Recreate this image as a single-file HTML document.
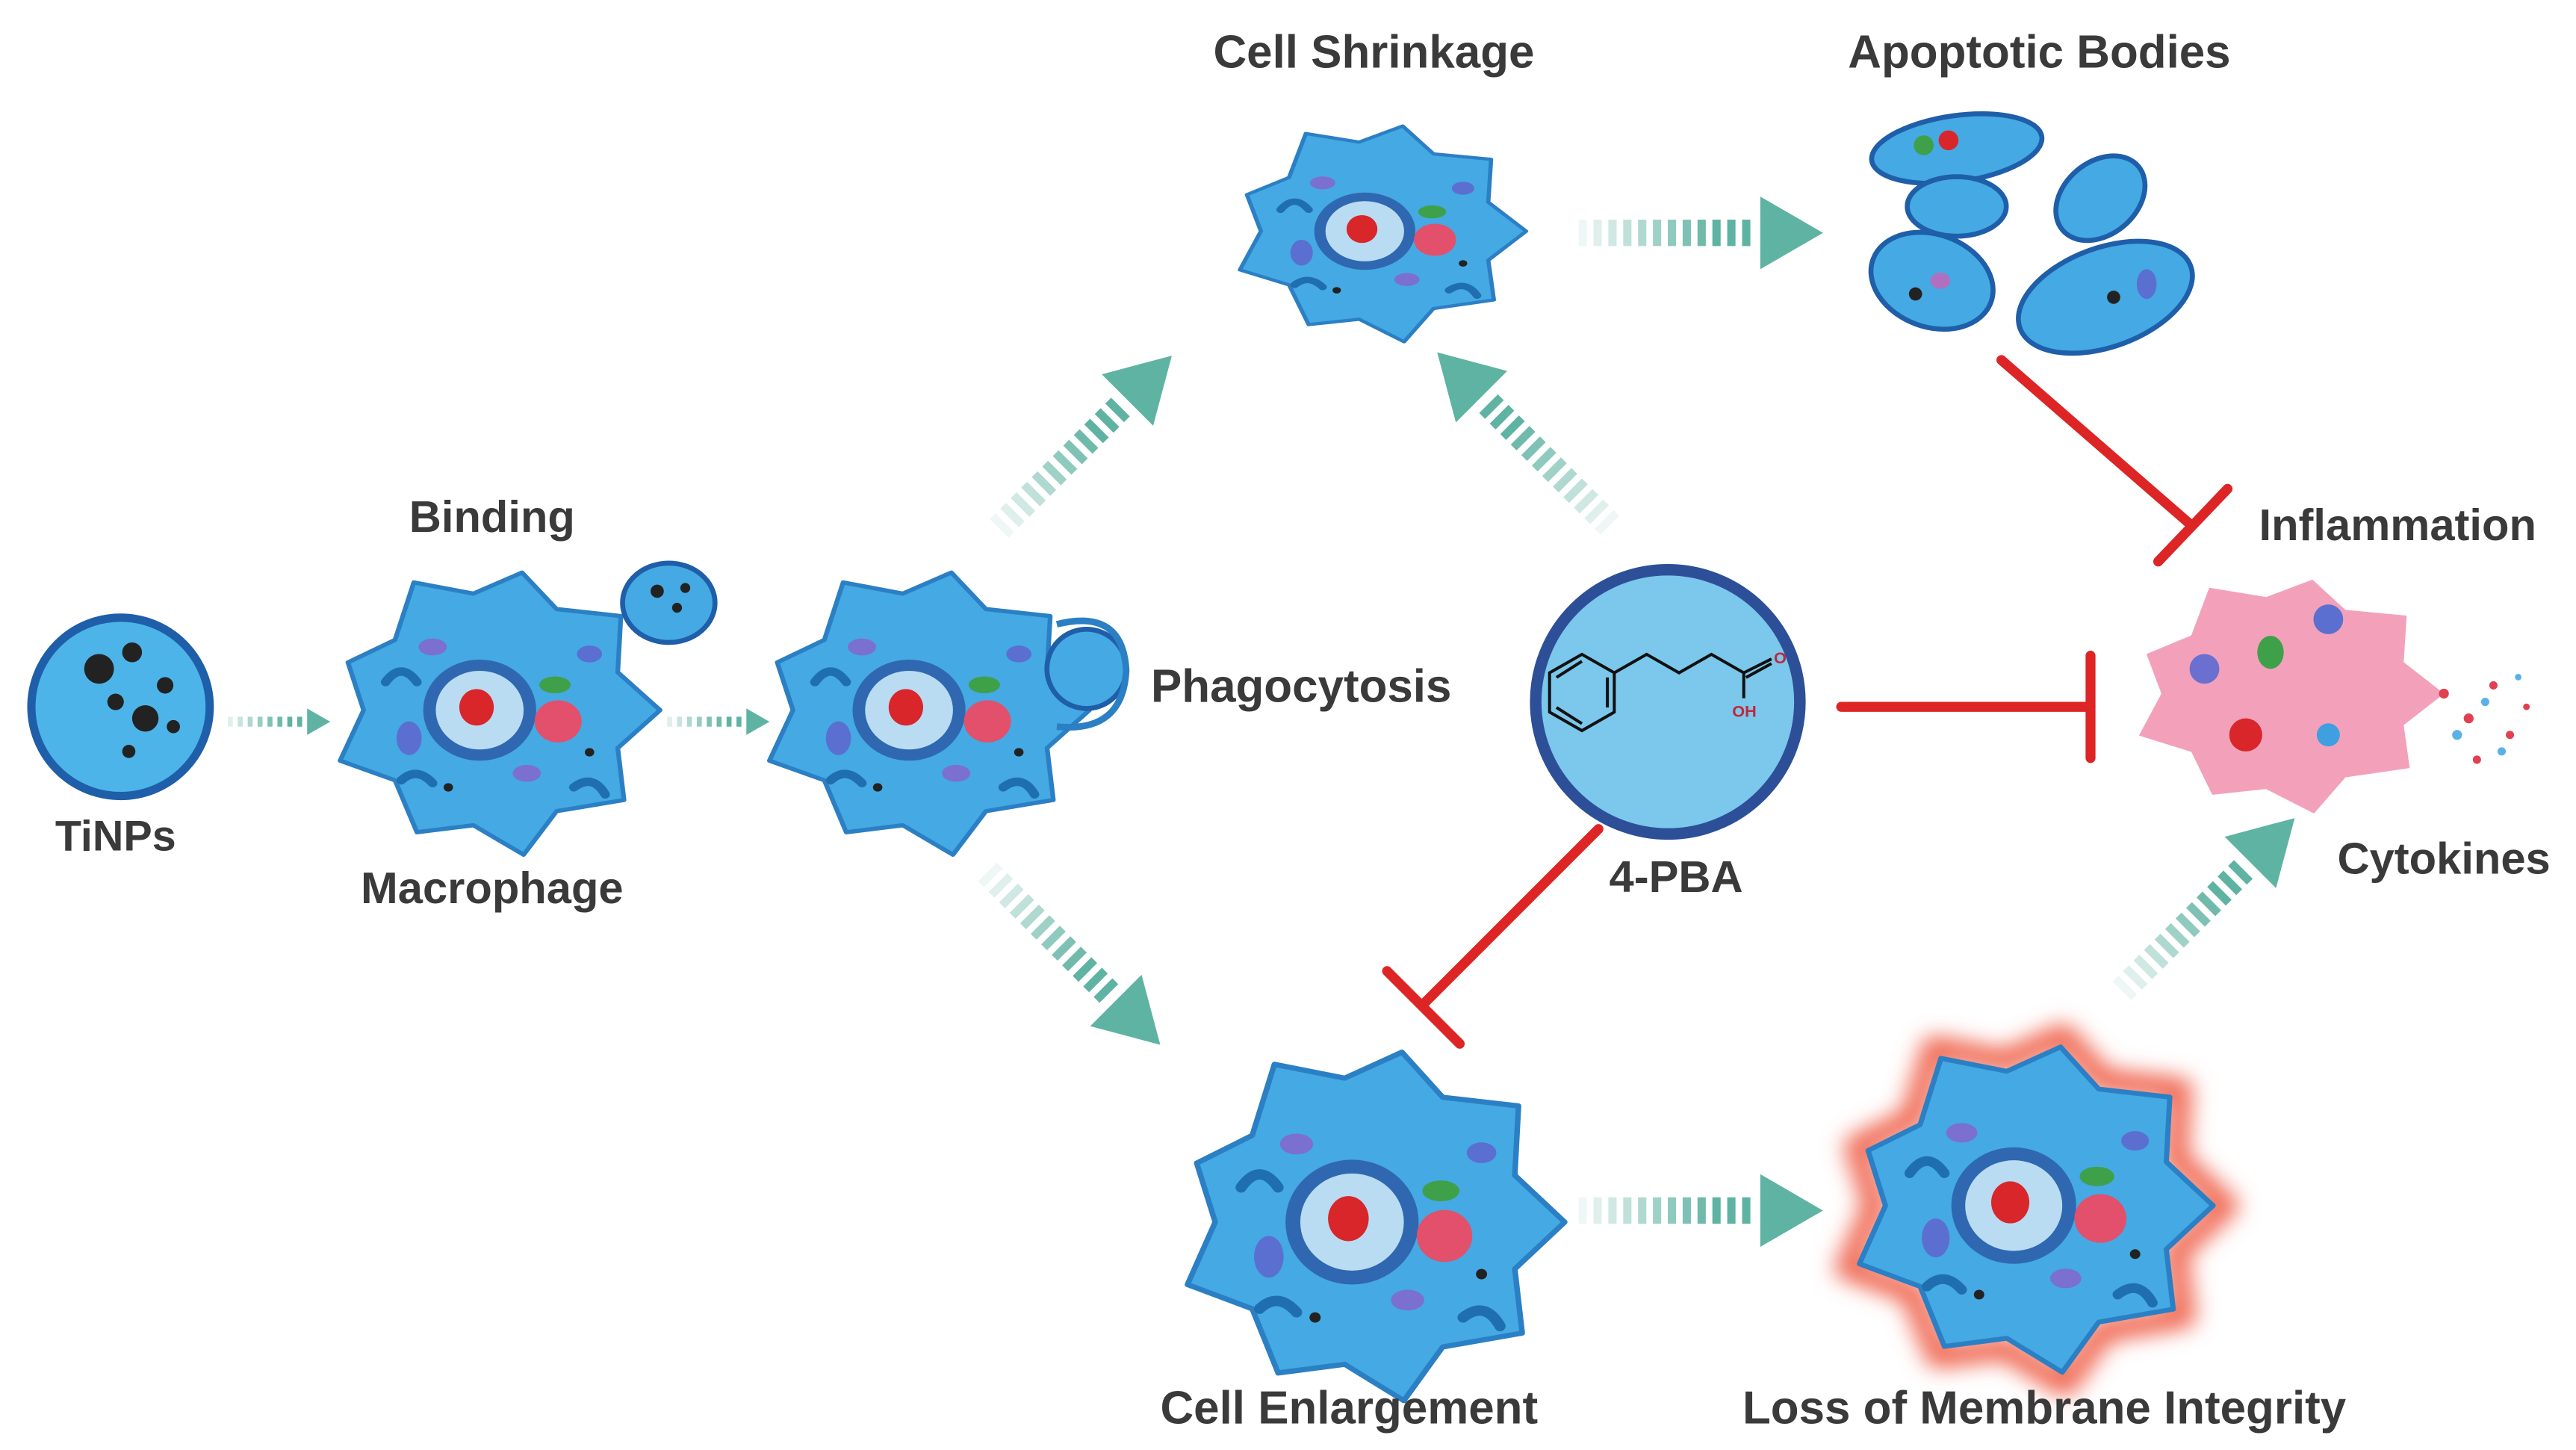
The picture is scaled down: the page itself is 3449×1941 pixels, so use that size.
<!DOCTYPE html>
<html><head><meta charset="utf-8"><style>
html,body{margin:0;padding:0;background:#fff;}
svg{display:block;}
text{font-family:"Liberation Sans",sans-serif;font-weight:bold;fill:#3a3a3a;}
</style></head><body>
<svg width="3449" height="1941" viewBox="0 0 1560 878" preserveAspectRatio="none" xmlns="http://www.w3.org/2000/svg">
<defs>
<polygon id="blob" points="105,0 78,27 82,64 39,72 18,103 -14,82 -50,87 -64,50 -99,36 -84,0 -94,-34 -64,-50 -52,-91 -14,-83 17,-98 39,-72 80,-67 78,-27" stroke-linejoin="round"/>
<g id="cell">
<use href="#blob" fill="#45a9e3" stroke="#2b7fc4" stroke-width="3"/>
<circle cx="-10" cy="0" r="36" fill="#2f68b0"/>
<circle cx="-10" cy="0" r="28" fill="#b9dcf2"/>
<ellipse cx="-12" cy="-2" rx="11" ry="13" fill="#d8262b"/>
<circle cx="40" cy="8" r="15" fill="#e2506b"/>
<ellipse cx="38" cy="-18" rx="10" ry="6" fill="#3fa04a"/>
<ellipse cx="-55" cy="20" rx="8" ry="12" fill="#5a6fd0"/>
<ellipse cx="20" cy="45" rx="9" ry="6" fill="#7b6fd0"/>
<ellipse cx="-40" cy="-45" rx="9" ry="6" fill="#7b6fd0"/>
<ellipse cx="60" cy="-40" rx="8" ry="6" fill="#5a6fd0"/>
<circle cx="60" cy="30" r="3" fill="#222"/><circle cx="-30" cy="55" r="3" fill="#222"/>
<path d="M-70,-20 q10,-15 20,0 M50,55 q12,-10 20,5 M-60,50 q10,-10 20,2" stroke="#1f6fb0" stroke-width="6" fill="none" stroke-linecap="round"/>
</g>
<g id="darr" fill="#5fb3a2">
<rect x="0" y="-8" width="5" height="16" opacity="0.1"/>
<rect x="9" y="-8" width="5" height="16" opacity="0.2"/>
<rect x="18" y="-8" width="5" height="16" opacity="0.3"/>
<rect x="27" y="-8" width="5" height="16" opacity="0.4"/>
<rect x="36" y="-8" width="5" height="16" opacity="0.5"/>
<rect x="45" y="-8" width="5" height="16" opacity="0.6"/>
<rect x="54" y="-8" width="5" height="16" opacity="0.7"/>
<rect x="63" y="-8" width="5" height="16" opacity="0.8"/>
<rect x="72" y="-8" width="5" height="16" opacity="0.9"/>
<rect x="81" y="-8" width="5" height="16"/>
<rect x="90" y="-8" width="5" height="16"/>
<rect x="99" y="-8" width="5" height="16"/>
<polygon points="110,-22 148,0 110,22"/>
</g>
<g id="sarr" fill="#5fb3a2">
<rect x="0" y="-3" width="3" height="6" opacity="0.2"/>
<rect x="6" y="-3" width="3" height="6" opacity="0.35"/>
<rect x="12" y="-3" width="3" height="6" opacity="0.5"/>
<rect x="18" y="-3" width="3" height="6" opacity="0.65"/>
<rect x="24" y="-3" width="3" height="6" opacity="0.8"/>
<rect x="30" y="-3" width="3" height="6" opacity="0.9"/>
<rect x="36" y="-3" width="3" height="6"/>
<rect x="42" y="-3" width="3" height="6"/>
<polygon points="48,-8 62,0 48,8"/>
</g>
<filter id="glow"><feGaussianBlur stdDeviation="6"/></filter>
</defs>

<!-- TiNPs -->
<circle cx="73" cy="428" r="54" fill="#4cb4e8" stroke="#1f5ea8" stroke-width="5"/>
<circle cx="60" cy="405" r="9" fill="#222"/><circle cx="80" cy="395" r="6" fill="#222"/><circle cx="88" cy="435" r="8" fill="#222"/><circle cx="70" cy="425" r="5" fill="#222"/><circle cx="100" cy="415" r="5" fill="#222"/><circle cx="105" cy="440" r="4" fill="#222"/><circle cx="78" cy="455" r="4" fill="#222"/>
<text x="70" y="515" font-size="26" text-anchor="middle">TiNPs</text>

<use href="#sarr" transform="translate(138,437)"/>
<use href="#sarr" transform="translate(404,437)"/>

<!-- Macrophage -->
<use href="#cell" transform="translate(300,430) scale(0.95,0.85)"/>
<ellipse cx="405" cy="365" rx="28" ry="24" fill="#45a9e3" stroke="#1f5ea8" stroke-width="3"/>
<circle cx="398" cy="358" r="4" fill="#222"/><circle cx="410" cy="368" r="3" fill="#222"/><circle cx="415" cy="356" r="3" fill="#222"/>
<text x="298" y="322" font-size="27" text-anchor="middle">Binding</text>
<text x="298" y="547" font-size="27" text-anchor="middle">Macrophage</text>

<!-- Phagocytosis -->
<use href="#cell" transform="translate(560,430) scale(0.95,0.85)"/>
<ellipse cx="658" cy="405" rx="24" ry="24" fill="#45a9e3" stroke="#1f5ea8" stroke-width="3"/>
<path d="M640,378 q40,-10 42,28 q-2,38 -42,34" stroke="#2b7fc4" stroke-width="4" fill="none"/>
<text x="697" y="425" font-size="28">Phagocytosis</text>

<!-- dotted arrows -->
<use href="#darr" transform="translate(605,320) rotate(-45)"/>
<use href="#darr" transform="translate(598,528) rotate(45)"/>
<use href="#darr" transform="translate(975,318) rotate(-135)"/>
<use href="#darr" transform="translate(1285,600) rotate(-45)"/>
<use href="#darr" transform="translate(956,141)"/>
<use href="#darr" transform="translate(956,733)"/>

<!-- Cell shrinkage -->
<use href="#cell" transform="translate(835,140) scale(0.85,0.65)"/>
<text x="832" y="41" font-size="28" text-anchor="middle">Cell Shrinkage</text>

<!-- Apoptotic bodies -->
<g fill="#45a9e3" stroke="#1f5ea8" stroke-width="3">
<ellipse cx="1185" cy="90" rx="52" ry="20" transform="rotate(-8 1185 90)"/>
<ellipse cx="1185" cy="125" rx="30" ry="18"/>
<ellipse cx="1272" cy="120" rx="30" ry="22" transform="rotate(-40 1272 120)"/>
<ellipse cx="1170" cy="170" rx="38" ry="28" transform="rotate(20 1170 170)"/>
<ellipse cx="1275" cy="180" rx="55" ry="30" transform="rotate(-20 1275 180)"/>
</g>
<circle cx="1165" cy="88" r="6" fill="#3fa04a"/><circle cx="1180" cy="85" r="6" fill="#d8262b"/><circle cx="1160" cy="178" r="4" fill="#222"/><circle cx="1280" cy="180" r="4" fill="#222"/><ellipse cx="1300" cy="172" rx="6" ry="9" fill="#5a6fd0"/><ellipse cx="1175" cy="170" rx="6" ry="5" fill="#b070c0"/>
<text x="1235" y="41" font-size="28" text-anchor="middle">Apoptotic Bodies</text>

<!-- 4-PBA -->
<circle cx="1010" cy="425" r="80" fill="#7cc7ec" stroke="#2d4f98" stroke-width="7"/>
<g transform="translate(958,420) scale(1.4) translate(-958,-420)">
<g stroke="#111" stroke-width="1.3" fill="none">
<polygon points="944,411 958,403 972,411 972,428 958,436 944,428"/>
<line x1="947" y1="413" x2="958" y2="406"/><line x1="969" y1="413" x2="969" y2="426"/><line x1="947" y1="426" x2="958" y2="433"/>
<polyline points="972,411 986,403 1000,411 1014,403 1028,411 1040,405"/>
<line x1="1028" y1="411" x2="1028" y2="422"/>
<line x1="1029" y1="413" x2="1040" y2="407"/>
</g>
<text x="1041" y="407" font-size="7" style="fill:#c0283a">O</text>
<text x="1023" y="430" font-size="7" style="fill:#c0283a">OH</text>
</g>
<text x="1015" y="540" font-size="27" text-anchor="middle">4-PBA</text>

<!-- red inhibitors -->
<g stroke="#dd2526" stroke-width="6" stroke-linecap="round">
<line x1="1115" y1="428" x2="1266" y2="428"/><line x1="1266" y1="397" x2="1266" y2="459"/>
<line x1="1212" y1="218" x2="1327" y2="318"/><line x1="1307" y1="340" x2="1349" y2="296"/>
<line x1="968" y1="502" x2="862" y2="608"/><line x1="840" y1="588" x2="884" y2="632"/>
</g>

<!-- Inflammation -->
<use href="#blob" transform="translate(1385,420) scale(0.9,0.7)" fill="#f3a1bb" stroke="#f3a1bb"/>
<circle cx="1335" cy="405" r="9" fill="#6a6fd0"/><ellipse cx="1375" cy="395" rx="8" ry="10" fill="#3fa04a"/><circle cx="1360" cy="445" r="10" fill="#d8262b"/><circle cx="1410" cy="375" r="9" fill="#5a6fd0"/><circle cx="1410" cy="445" r="7" fill="#3f9fe0"/>
<g fill="#e04050"><circle cx="1480" cy="420" r="3"/><circle cx="1495" cy="435" r="3"/><circle cx="1510" cy="415" r="2.5"/><circle cx="1520" cy="445" r="2.5"/><circle cx="1500" cy="460" r="2.5"/><circle cx="1530" cy="428" r="2"/></g>
<g fill="#5bb0e8"><circle cx="1488" cy="445" r="3"/><circle cx="1505" cy="425" r="2.5"/><circle cx="1515" cy="455" r="2.5"/><circle cx="1525" cy="410" r="2"/></g>
<text x="1452" y="327" font-size="27" text-anchor="middle">Inflammation</text>
<text x="1480" y="529" font-size="27" text-anchor="middle">Cytokines</text>

<!-- Enlargement -->
<use href="#cell" transform="translate(830,740) scale(1.12,1.05)"/>
<text x="817" y="862" font-size="28" text-anchor="middle">Cell Enlargement</text>

<!-- Loss of membrane -->
<use href="#blob" transform="translate(1230,730) scale(1.12,1.05)" fill="none" stroke="#f06a55" stroke-width="14" filter="url(#glow)"/>
<use href="#cell" transform="translate(1230,730) scale(1.05,0.98)"/>
<text x="1238" y="862" font-size="28" text-anchor="middle">Loss of Membrane Integrity</text>
</svg>
</body></html>
